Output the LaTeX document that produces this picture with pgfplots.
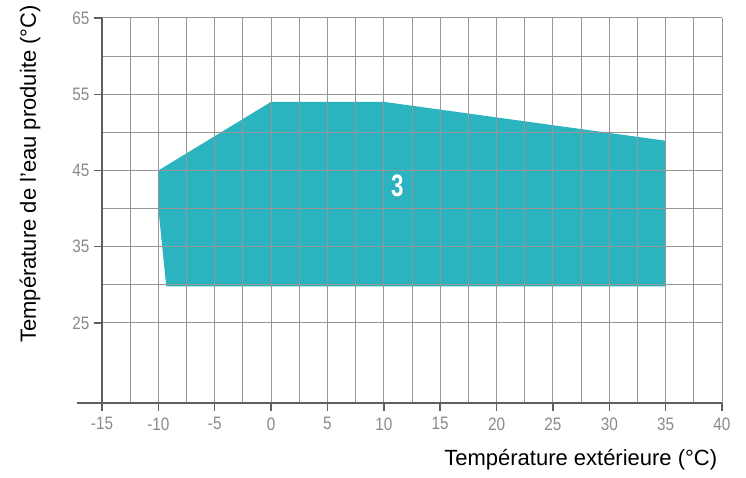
\documentclass[border=0pt]{standalone}
\usepackage{fontspec}
\setmainfont{Liberation Sans}
\newfontfamily\cond[FakeStretch=0.85]{Liberation Sans}
\newfontfamily\condnarrow[FakeStretch=0.72]{Liberation Sans}
\usepackage{pgfplots}
\pgfplotsset{compat=1.18}
\definecolor{fillteal}{HTML}{2BB3BF}
\definecolor{gridgray}{HTML}{969696}
\definecolor{axgray}{HTML}{5F5F5F}
\definecolor{tickgray}{HTML}{8A8A8A}
\begin{document}
\begin{tikzpicture}
\begin{axis}[
  at={(0,0)}, anchor=south west,
  scale only axis, width=620pt, height=385pt,
  xmin=-15, xmax=40, ymin=14.5, ymax=65,
  axis lines=left,
  axis line style={-, axgray, line width=1.4pt},
  axis on top,
  xtick={-15,-10,-5,0,5,10,15,20,25,30,35,40},
  xticklabels={-15,-10,-5,0,5,10,15,20,25,30,35,40},
  minor x tick num=1,
  ytick={25,35,45,55,65},
  yticklabels={25,35,45,55,65},
  minor y tick num=1,
  grid=both,
  major grid style={gridgray, line width=1pt},
  minor grid style={gridgray, line width=1pt},
  tick align=outside,
  major tick length=8pt,
  minor tick length=0pt,
  tick style={axgray, line width=1.4pt},
  xticklabel style={font=\cond\fontsize{18}{18}\selectfont, text=tickgray, yshift=-3pt},
  yticklabel style={font=\cond\fontsize{18}{18}\selectfont, text=tickgray, xshift=-1pt},
  xlabel={Température extérieure (°C)},
  xlabel style={font=\fontsize{22}{22}\selectfont, anchor=east, at={(rel axis cs:0.998,0)}, yshift=-57pt},
  ylabel={Température de l'eau produite (°C)},
  ylabel style={font=\fontsize{22}{22}\selectfont, anchor=center, at={(rel axis cs:-0.116,0.595)}},
  clip=false,
]
\addplot[fill=fillteal, draw=none] coordinates {
  (-10,45) (0,54) (10,54) (35,48.9) (35,29.8) (-9.3,29.8) (-10,40)
} -- cycle;
\node[text=white, font=\condnarrow\bfseries\fontsize{31}{31}\selectfont] at (axis cs:11.2,43.0) {3};
\draw[axgray, line width=1.4pt] (rel axis cs:0,0) -- ([xshift=-25pt]rel axis cs:0,0);
\end{axis}
\pgfresetboundingbox
\path[use as bounding box] (-102pt,-75pt) rectangle (644pt,403pt);
\end{tikzpicture}
\end{document}
